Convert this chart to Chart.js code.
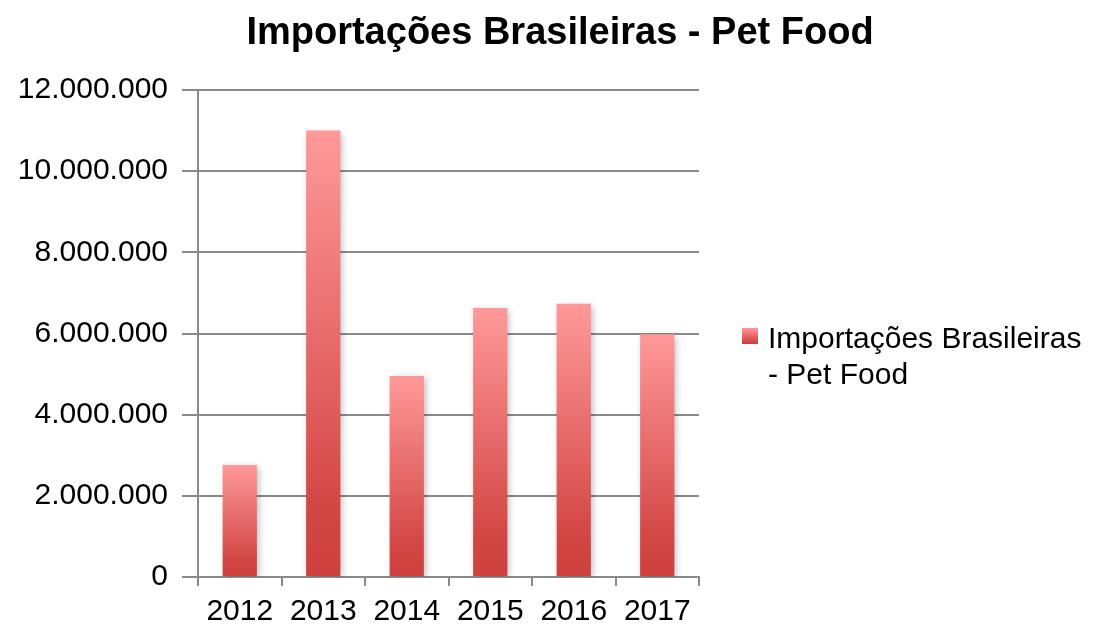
<!DOCTYPE html>
<html>
<head>
<meta charset="utf-8">
<script src="https://cdn.jsdelivr.net/npm/chart.js@4/dist/chart.umd.min.js"></script>
<style>
  html, body { margin: 0; padding: 0; background: #fff; }
  #wrap { width: 1105px; height: 629px; }
</style>
</head>
<body>
<div id="wrap"><canvas id="chart" width="1105" height="629"></canvas></div>
<script>
// Importações Brasileiras - Pet Food
const chartTitle = 'Importações Brasileiras - Pet Food';
const years = ['2012', '2013', '2014', '2015', '2016', '2017'];
const imports = [2760000, 11000000, 4950000, 6630000, 6730000, 5980000];

const FONT = '"Liberation Sans", Arial, sans-serif';
const GRID = '#8a8a8a';

function fmt(v) {
  return String(v).replace(/\B(?=(\d{3})+(?!\d))/g, '.');
}

function barGradient(ctx, top, bottom) {
  const g = ctx.createLinearGradient(0, top, 0, bottom);
  g.addColorStop(0, '#ff9999');
  g.addColorStop(0.85, '#d24644');
  g.addColorStop(1, '#cd403d');
  return g;
}

// soft shadow behind the bars
const shadowPlugin = {
  id: 'barShadow',
  beforeDatasetsDraw(chart) {
    const c = chart.ctx;
    c.save();
    c.shadowColor = 'rgba(0,0,0,0.28)';
    c.shadowBlur = 7;
    c.shadowOffsetX = 2;
    c.shadowOffsetY = 2;
  },
  afterDatasetsDraw(chart) {
    chart.ctx.restore();
  }
};

// title + wrapped legend on the right
const decorPlugin = {
  id: 'decor',
  afterDraw(chart) {
    const c = chart.ctx;
    c.save();
    c.fillStyle = '#000';
    c.font = 'bold 38px ' + FONT;
    c.textAlign = 'center';
    c.textBaseline = 'alphabetic';
    c.fillText(chartTitle, 560, 44);

    // legend
    const label = chart.data.datasets[0].label;
    c.font = '30px ' + FONT;
    c.textAlign = 'left';
    const maxW = 322;
    const words = label.split(' ');
    const lines = [];
    let cur = '';
    words.forEach(w => {
      const t = cur ? cur + ' ' + w : w;
      if (c.measureText(t).width > maxW && cur) { lines.push(cur); cur = w; }
      else cur = t;
    });
    if (cur) lines.push(cur);
    lines.forEach((l, i) => c.fillText(l, 768, 348 + i * 36));

    c.fillStyle = barGradient(c, 328, 344);
    c.fillRect(742, 328, 16, 16);
    c.restore();
  }
};

new Chart(document.getElementById('chart'), {
  type: 'bar',
  data: {
    labels: years,
    datasets: [{
      label: chartTitle,
      data: imports,
      backgroundColor(ctx) {
        const chart = ctx.chart;
        if (!chart.chartArea || ctx.raw === undefined) return '#e06060';
        const y = chart.scales.y;
        return barGradient(chart.ctx, y.getPixelForValue(ctx.raw), y.getPixelForValue(0));
      },
      borderWidth: 0,
      categoryPercentage: 1,
      barPercentage: 0.41,
    }]
  },
  options: {
    responsive: false,
    animation: false,
    devicePixelRatio: 1,
    layout: { padding: { top: 90, right: 406, bottom: 0, left: 0 } },
    plugins: {
      legend: { display: false },
      title: { display: false },
      tooltip: { enabled: false },
    },
    scales: {
      y: {
        min: 0,
        max: 12000000,
        afterFit(scale) { scale.width = 198; },
        ticks: {
          stepSize: 2000000,
          padding: 14,
          color: '#000',
          font: { family: FONT, size: 30 },
          callback: v => fmt(v),
        },
        grid: { color: GRID, lineWidth: 2, tickLength: 16 },
        border: { color: GRID, width: 2 },
      },
      x: {
        afterFit(scale) { scale.height = 52; },
        ticks: {
          padding: 8,
          color: '#000',
          font: { family: FONT, size: 30 },
        },
        grid: { color: GRID, lineWidth: 2, drawOnChartArea: false, tickLength: 9, offset: true },
        border: { color: GRID, width: 2 },
      }
    }
  },
  plugins: [shadowPlugin, decorPlugin]
});
</script>
</body>
</html>
